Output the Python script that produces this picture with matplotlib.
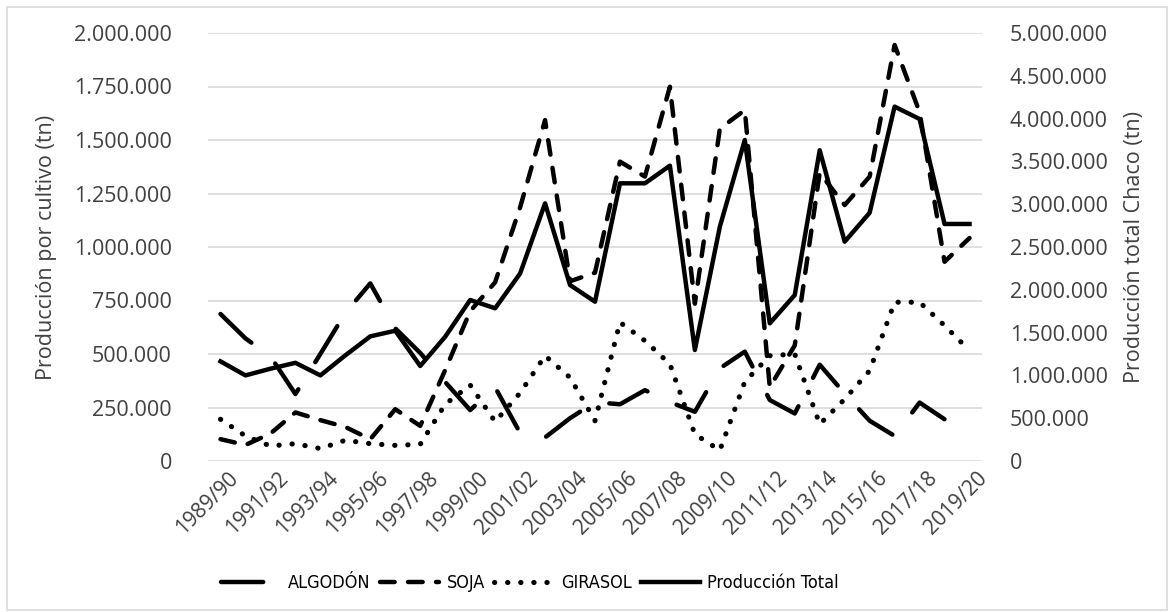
import matplotlib
matplotlib.use("Agg")
import matplotlib.pyplot as plt
import matplotlib.transforms as mtransforms
from matplotlib.ticker import FuncFormatter, MultipleLocator
from matplotlib.patches import Rectangle

plt.rcParams['font.family'] = ['Open Sans', 'DejaVu Sans']

# Campañas (eje x)
campanias = ['1989/90', '1990/91', '1991/92', '1992/93', '1993/94', '1994/95',
             '1995/96', '1996/97', '1997/98', '1998/99', '1999/00', '2000/01',
             '2001/02', '2002/03', '2003/04', '2004/05', '2005/06', '2006/07',
             '2007/08', '2008/09', '2009/10', '2010/11', '2011/12', '2012/13',
             '2013/14', '2014/15', '2015/16', '2016/17', '2017/18', '2018/19',
             '2019/20']

# Produccion por cultivo (tn) - eje izquierdo
algodon = [687000, 573000, 489000, 313000, 500000, 692000, 830000, 620000,
           505000, 369000, 238000, 344000, 131000, 110000, 200000, 275000,
           265000, 331000, 275000, 230000, 433000, 511000, 285000, 222000,
           450000, 315000, 188000, 117000, 273000, 195000, 281000]
soja = [102000, 75000, 128000, 227000, 191000, 159000, 102000, 242000,
        164000, 425000, 700000, 835000, 1185000, 1593000, 840000, 880000,
        1399000, 1329000, 1749000, 735000, 1553000, 1640000, 345000, 540000,
        1346000, 1196000, 1329000, 1944000, 1630000, 931000, 1042000]
girasol = [195000, 117000, 70000, 81000, 58000, 97000, 81000, 73000,
           78000, 265000, 355000, 184000, 318000, 492000, 390000, 188000,
           648000, 562000, 453000, 125000, 50000, 370000, 492000, 500000,
           172000, 289000, 422000, 742000, 742000, 633000, 516000]

# Produccion total Chaco (tn) - eje derecho
total = [1164000, 1000000, 1078000, 1147000, 1000000, 1234000, 1456000, 1522000,
         1110000, 1452000, 1881000, 1784000, 2190000, 3010000, 2056000, 1861000,
         3244000, 3244000, 3450000, 1297000, 2737000, 3750000, 1608000, 1939000,
         3630000, 2562000, 2900000, 4140000, 3995000, 2769000, 2769000]

x = list(range(len(campanias)))
lw = 3.2
gris = '#404040'

def miles(v, pos):
    return f"{int(v):,}".replace(",", ".")

fig = plt.figure(figsize=(11.73, 6.12), dpi=100)
ax = fig.add_axes([208/1173, 1 - 461/612, (982-208)/1173, (461-33)/612])
ax2 = ax.twinx()

l1, = ax.plot(x, algodon, color='black', lw=lw, linestyle=(0, (9.5, 7.2)),
              dash_capstyle='round', solid_joinstyle='round', label='ALGODÓN')
l2, = ax.plot(x, soja, color='black', lw=lw, linestyle=(0, (3.3, 3.0)),
              dash_capstyle='round', label='SOJA')
l3, = ax.plot(x, girasol, color='black', lw=3.7, linestyle=(0, (0.05, 2.5)),
              dash_capstyle='round', label='GIRASOL')
l4, = ax2.plot(x, total, color='black', lw=lw, solid_joinstyle='round',
               label='Producción Total')

ax.set_xlim(-0.5, len(campanias) - 0.5)
ax.set_ylim(0, 2000000)
ax2.set_ylim(0, 5000000)
ax.yaxis.set_major_locator(MultipleLocator(250000))
ax2.yaxis.set_major_locator(MultipleLocator(500000))
ax.yaxis.set_major_formatter(FuncFormatter(miles))
ax2.yaxis.set_major_formatter(FuncFormatter(miles))

ax.grid(axis='y', color='#d9d9d9', lw=1.2)
ax.set_axisbelow(True)
for a in (ax, ax2):
    for s in a.spines.values():
        s.set_visible(False)

ax.set_xticks(x[::2])
ax.set_xticklabels(campanias[::2], rotation=45, ha='right', va='top',
                   rotation_mode='anchor')
ax.tick_params(axis='x', length=0, pad=5, labelsize=15, labelcolor=gris)
desplaza = mtransforms.ScaledTranslation(7/100, 0, fig.dpi_scale_trans)
for lab in ax.get_xticklabels():
    lab.set_transform(lab.get_transform() + desplaza)
ax.tick_params(axis='y', length=0, pad=26, labelsize=15.5, labelcolor=gris)
ax2.tick_params(axis='y', length=0, pad=20, labelsize=15.5, labelcolor=gris)

ax.set_ylabel('Producción por cultivo (tn)', fontsize=15.5, color=gris, labelpad=12)
ax2.set_ylabel('Producción total Chaco (tn)', fontsize=15.5, color=gris,
               rotation=90, labelpad=12)

fig.legend(handles=[l1, l2, l3, l4], loc='center', bbox_to_anchor=(0.452, 0.047),
           ncol=4, frameon=False, handlelength=3.3,
           handletextpad=0.4, columnspacing=0.5,
           prop={'family': 'DejaVu Sans', 'stretch': 'condensed', 'size': 13})

fig.patches.append(Rectangle((7/1173, 2/612), 1160/1173, 603/612,
                             transform=fig.transFigure, fill=False,
                             edgecolor='#d9d9d9', lw=1.2))

fig.savefig('out.png', dpi=100)
